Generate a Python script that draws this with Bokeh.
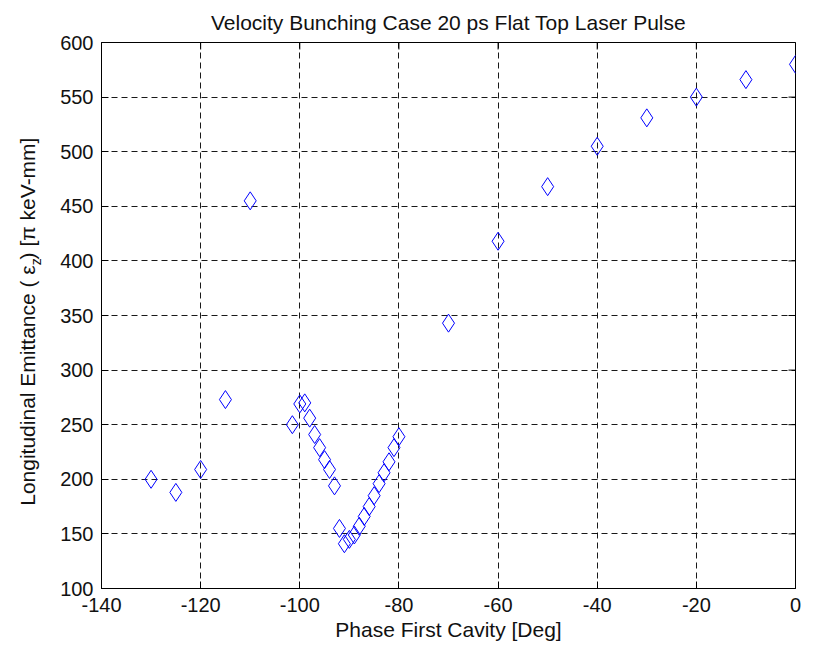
import math

from bokeh.embed import file_html
from bokeh.layouts import row
from bokeh.models import FixedTicker, Label, Range1d
from bokeh.plotting import figure
from bokeh.resources import INLINE

# Phase of the first cavity (deg) and the resulting longitudinal emittance
phase_deg = [-130, -125, -120, -115, -110,
             -101.5, -100, -99, -98, -97, -96, -95, -94, -93, -92,
             -91, -90, -89, -88, -87, -86, -85, -84, -83, -82, -81, -80,
             -70, -60, -50, -40, -30, -20, -10, 0]
emittance = [200, 188, 209, 273, 455,
             250, 269, 270, 256, 241, 229, 218, 209, 194, 155,
             141, 145, 149, 157, 166, 175, 185, 196, 206, 216, 229, 239,
             343, 418, 468, 505, 531, 550, 566, 580]

x_ticks = [-140, -120, -100, -80, -60, -40, -20, 0]
y_ticks = [100, 150, 200, 250, 300, 350, 400, 450, 500, 550, 600]

X_MIN, X_MAX = -140, 0
Y_MIN, Y_MAX = 100, 600

FONT = "Liberation Sans"
TICK_SIZE = "20px"
LABEL_SIZE = "21px"
TEXT_COLOR = "#111111"

PAGE_W, PAGE_H = 815, 647
STRIP_W = 50  # narrow strip that carries the rotated y-axis title

p = figure(
    width=PAGE_W - STRIP_W, height=PAGE_H,
    x_range=Range1d(X_MIN, X_MAX), y_range=Range1d(Y_MIN, Y_MAX),
    output_backend="svg", toolbar_location=None,
    min_border_left=101 - STRIP_W, min_border_right=20,
    min_border_top=42, min_border_bottom=59,
    background_fill_color="white", border_fill_color="white",
)

p.title.text = "Velocity Bunching Case 20 ps Flat Top Laser Pulse"
p.title.align = "center"
p.title.text_font = FONT
p.title.text_font_size = LABEL_SIZE
p.title.text_font_style = "normal"
p.title.text_color = TEXT_COLOR
p.title.standoff = 17

p.outline_line_color = "black"
p.outline_line_width = 1

# Dashed grid
for g, ticks in ((p.xgrid, x_ticks), (p.ygrid, y_ticks)):
    g.ticker = FixedTicker(ticks=ticks)
    g.grid_line_color = "black"
    g.grid_line_alpha = 0.9
    g.grid_line_dash = "6 4"
    g.grid_line_width = 1


def style_axis(ax, ticks):
    ax.ticker = FixedTicker(ticks=ticks)
    # plain hyphen for negative numbers
    ax.major_label_overrides = {t: str(t) for t in ticks}
    ax.axis_line_color = "black"
    ax.major_tick_line_color = "black"
    ax.major_tick_in = 7
    ax.major_tick_out = 0
    ax.minor_tick_line_color = None
    ax.major_label_text_font = FONT
    ax.major_label_text_font_size = TICK_SIZE
    ax.major_label_text_color = TEXT_COLOR
    ax.major_label_standoff = 8


style_axis(p.xaxis[0], x_ticks)
style_axis(p.yaxis[0], y_ticks)
p.xaxis[0].major_label_standoff = 9
p.xaxis[0].axis_label = "Phase First Cavity [Deg]"
p.xaxis[0].axis_label_text_font = FONT
p.xaxis[0].axis_label_text_font_size = LABEL_SIZE
p.xaxis[0].axis_label_text_font_style = "normal"
p.xaxis[0].axis_label_text_color = TEXT_COLOR
p.xaxis[0].axis_label_standoff = 3

# Inward ticks along the top and right edges of the box (half of each dash
# falls outside the frame and is clipped away)
p.scatter(x_ticks, [Y_MAX] * len(x_ticks), marker="dash", angle=math.pi / 2,
          size=14, line_color="black", line_width=1)
p.scatter([X_MAX] * len(y_ticks), y_ticks, marker="dash",
          size=14, line_color="black", line_width=1)

p.scatter(phase_deg, emittance, marker="diamond", size=18,
          fill_color=None, line_color="#0000FF", line_width=1)

# Strip on the left holding the y-axis title; its ranges are in pixels,
# y counted from the top of the page
strip = figure(
    width=STRIP_W, height=PAGE_H,
    x_range=Range1d(0, STRIP_W), y_range=Range1d(PAGE_H, 0),
    output_backend="svg", toolbar_location=None,
    min_border=0, outline_line_color=None,
    background_fill_color="white", border_fill_color="white",
)
strip.axis.visible = False
strip.grid.visible = False

common = dict(angle=math.pi / 2, text_font=FONT, text_color=TEXT_COLOR,
              text_baseline="middle")
strip.add_layout(Label(x=27, y=264, text="Longitudinal Emittance ( \u03b5",
                       text_align="right", text_font_size=LABEL_SIZE, **common))
strip.add_layout(Label(x=27, y=264, x_offset=8, text="z",
                       text_align="left", text_font_size="14px", **common))
strip.add_layout(Label(x=27, y=257, text=" ) [\u03c0 keV-mm]",
                       text_align="left", text_font_size=LABEL_SIZE, **common))

layout = row(strip, p, spacing=0)

open("out.html", "w").write(file_html(layout, INLINE))
